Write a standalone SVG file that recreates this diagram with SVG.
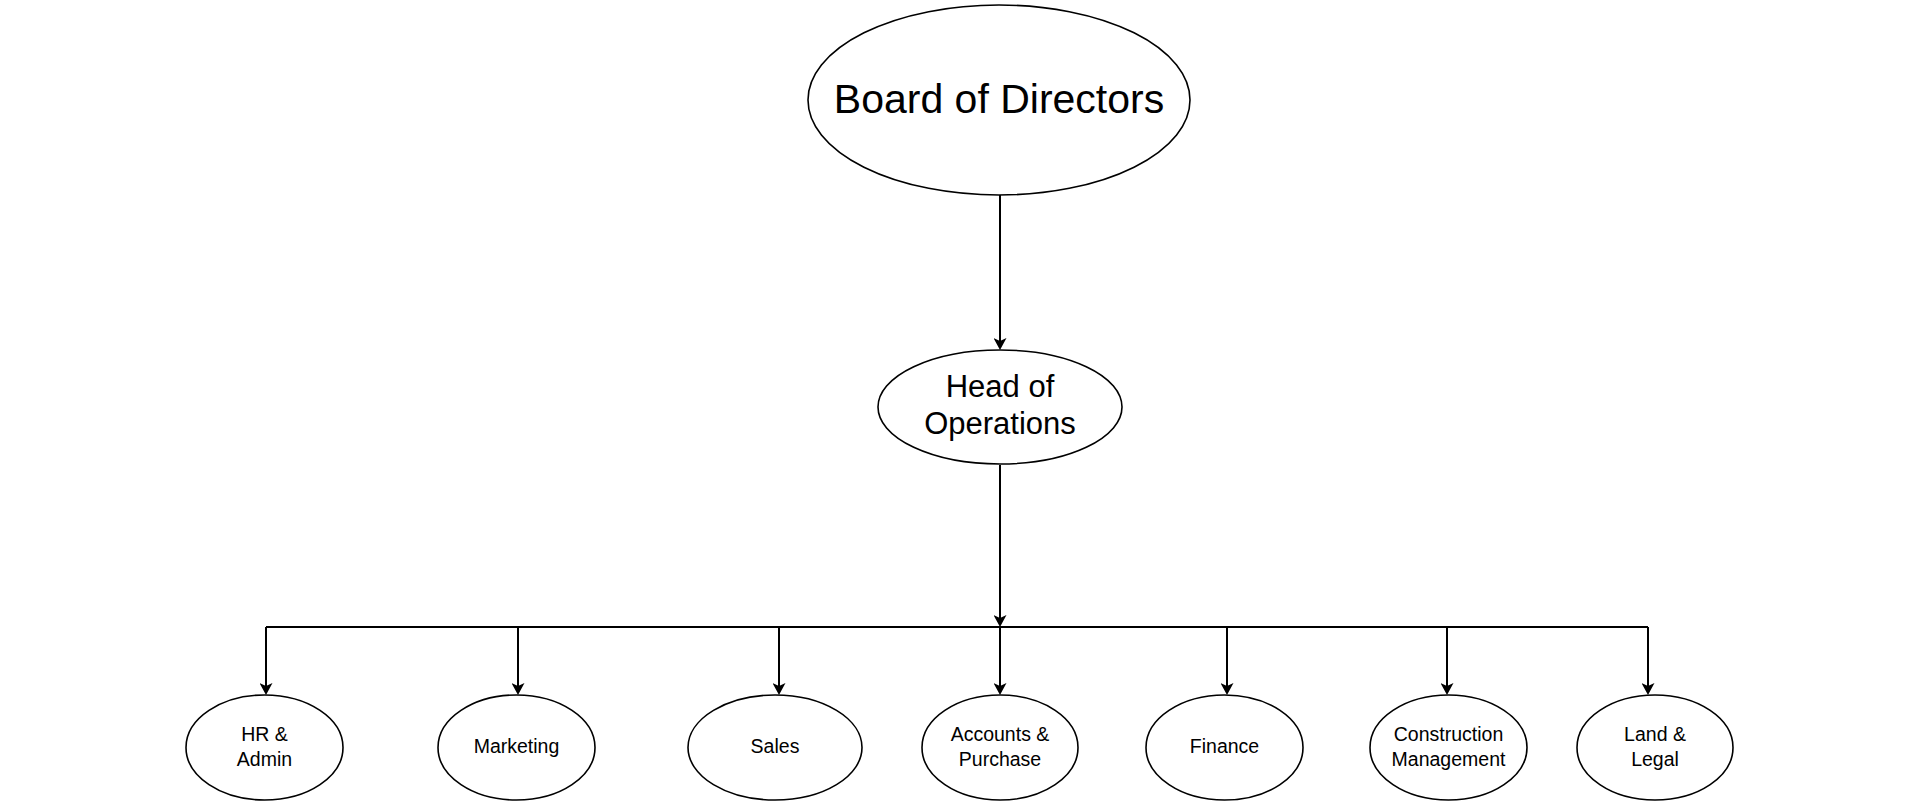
<svg xmlns="http://www.w3.org/2000/svg" width="1920" height="805" viewBox="0 0 1920 805">
<defs>
<marker id="arr" markerUnits="userSpaceOnUse" viewBox="0 0 12 13" refX="5" refY="6.5" markerWidth="12" markerHeight="13" orient="auto">
<path d="M0,0 L12,6.5 L0,13 L3,6.5 Z" fill="#000"/>
</marker>
<style>
.n ellipse{fill:#fff;stroke:#000;stroke-width:1.6}
.n text{font-family:"Liberation Sans",Arial,sans-serif;fill:#000;text-anchor:middle}
.big{font-size:41px}
.mid{font-size:31px}
.sm{font-size:19.5px}
.c{fill:none;stroke:#000;stroke-width:2}
</style>
</defs>
<rect width="1920" height="805" fill="#fff"/>
<g id="connectors">
<path class="c" d="M1000,195 V343" marker-end="url(#arr)"/>
<path class="c" d="M1000,465 V620" marker-end="url(#arr)"/>
<path class="c" d="M266,627 H1648"/>
<path class="c" d="M266,627 V688" marker-end="url(#arr)"/>
<path class="c" d="M518,627 V688" marker-end="url(#arr)"/>
<path class="c" d="M779,627 V688" marker-end="url(#arr)"/>
<path class="c" d="M1000,627 V688" marker-end="url(#arr)"/>
<path class="c" d="M1227,627 V688" marker-end="url(#arr)"/>
<path class="c" d="M1447,627 V688" marker-end="url(#arr)"/>
<path class="c" d="M1648,627 V688" marker-end="url(#arr)"/>
</g>
<g id="board" class="n">
<ellipse cx="999" cy="100" rx="191" ry="95"/>
<text class="big" x="999" y="113">Board of Directors</text>
</g>
<g id="head" class="n">
<ellipse cx="1000" cy="407" rx="122" ry="57"/>
<text class="mid" x="1000" y="397">Head of</text>
<text class="mid" x="1000" y="434">Operations</text>
</g>
<g id="hr" class="n">
<ellipse cx="264.5" cy="747.5" rx="78.5" ry="52.5"/>
<text class="sm" x="264.5" y="741">HR &amp;</text>
<text class="sm" x="264.5" y="766">Admin</text>
</g>
<g id="marketing" class="n">
<ellipse cx="516.5" cy="747.5" rx="78.5" ry="52.5"/>
<text class="sm" x="516.5" y="753">Marketing</text>
</g>
<g id="sales" class="n">
<ellipse cx="775" cy="747.5" rx="87" ry="52.5"/>
<text class="sm" x="775" y="753">Sales</text>
</g>
<g id="accounts" class="n">
<ellipse cx="1000" cy="747.5" rx="78" ry="52.5"/>
<text class="sm" x="1000" y="741">Accounts &amp;</text>
<text class="sm" x="1000" y="766">Purchase</text>
</g>
<g id="finance" class="n">
<ellipse cx="1224.5" cy="747.5" rx="78.5" ry="52.5"/>
<text class="sm" x="1224.5" y="753">Finance</text>
</g>
<g id="construction" class="n">
<ellipse cx="1448.5" cy="747.5" rx="78.5" ry="52.5"/>
<text class="sm" x="1448.5" y="741">Construction</text>
<text class="sm" x="1448.5" y="766">Management</text>
</g>
<g id="land" class="n">
<ellipse cx="1655" cy="747.5" rx="78" ry="52.5"/>
<text class="sm" x="1655" y="741">Land &amp;</text>
<text class="sm" x="1655" y="766">Legal</text>
</g>
</svg>
